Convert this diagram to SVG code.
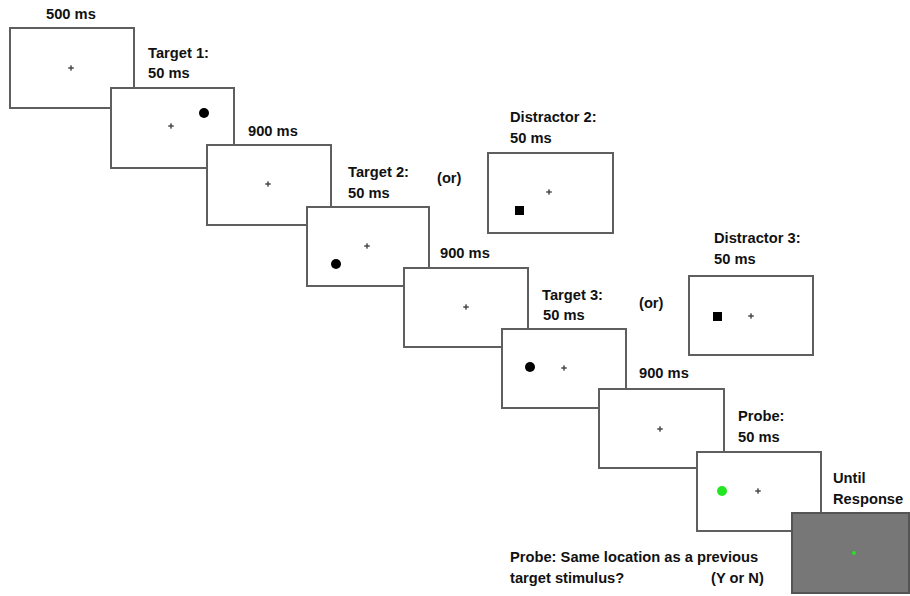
<svg xmlns="http://www.w3.org/2000/svg" width="910" height="596" viewBox="0 0 910 596">
<style>
.box{fill:#fff;stroke:#5f5f5f;stroke-width:2}
.dark{fill:#777;stroke:#555;stroke-width:2}
.fix{stroke:#555;stroke-width:1.4;fill:none}
.t{font-family:"Liberation Sans",Arial,sans-serif;font-weight:bold;font-size:14.7px;fill:#111}
.dot{fill:#000}
.sq{fill:#000}
.g{fill:#22e622}
</style>
<defs>
<g id="fx"><path class="fix" d="M-2.8,0H2.8M0,-2.8V2.8"/><circle r="1.4" fill="#555"/></g>
</defs>
<rect width="910" height="596" fill="#fff"/>
<g id="connectors"></g>
<g id="screen1"><rect class="box" x="10" y="28" width="124" height="80"/><use href="#fx" x="71" y="68"/><text class="t" x="46" y="19">500 ms</text></g>
<g id="target1"><rect class="box" x="111" y="88" width="123" height="80"/><use href="#fx" x="171" y="126"/><circle class="dot" cx="204" cy="113" r="5"/><text class="t" x="148" y="58">Target 1:</text><text class="t" x="148" y="78">50 ms</text></g>
<g id="blank1"><rect class="box" x="207" y="145" width="124" height="80"/><use href="#fx" x="268" y="184"/><text class="t" x="248" y="136">900 ms</text></g>
<g id="target2"><rect class="box" x="307" y="207" width="122" height="79"/><use href="#fx" x="367" y="246"/><circle class="dot" cx="336" cy="264" r="5"/><text class="t" x="348" y="177">Target 2:</text><text class="t" x="348" y="198">50 ms</text></g>
<g id="or1"><text class="t" x="437" y="183">(or)</text></g>
<g id="distractor2"><rect class="box" x="488" y="153" width="125" height="80"/><use href="#fx" x="549" y="192"/><rect class="sq" x="515" y="206" width="9" height="9"/><text class="t" x="510" y="122">Distractor 2:</text><text class="t" x="510" y="143">50 ms</text></g>
<g id="blank2"><rect class="box" x="404" y="268" width="124" height="79"/><use href="#fx" x="466" y="307"/><text class="t" x="440" y="258">900 ms</text></g>
<g id="target3"><rect class="box" x="502" y="329" width="124" height="79"/><use href="#fx" x="564" y="368"/><circle class="dot" cx="530" cy="367" r="5"/><text class="t" x="542" y="300">Target 3:</text><text class="t" x="543" y="320">50 ms</text></g>
<g id="or2"><text class="t" x="639" y="308">(or)</text></g>
<g id="distractor3"><rect class="box" x="689" y="276" width="124" height="79"/><use href="#fx" x="751" y="316"/><rect class="sq" x="713" y="312" width="9" height="9"/><text class="t" x="714" y="243">Distractor 3:</text><text class="t" x="714" y="264">50 ms</text></g>
<g id="blank3"><rect class="box" x="599" y="389" width="125" height="79"/><use href="#fx" x="660" y="429"/><text class="t" x="639" y="378">900 ms</text></g>
<g id="probe"><rect class="box" x="697" y="452" width="124" height="79"/><use href="#fx" x="758" y="491"/><circle class="g" cx="722" cy="491" r="5"/><text class="t" x="738" y="421">Probe:</text><text class="t" x="738" y="442">50 ms</text></g>
<g id="response"><rect class="dark" x="792" y="513" width="117" height="80"/><circle class="g" cx="854" cy="553" r="2"/><text class="t" x="833" y="483">Until</text><text class="t" x="833" y="504">Response</text></g>
<g id="caption"><text class="t" x="510" y="562">Probe: Same location as a previous</text><text class="t" x="510" y="583">target stimulus?</text><text class="t" x="711" y="583">(Y or N)</text></g>
</svg>
